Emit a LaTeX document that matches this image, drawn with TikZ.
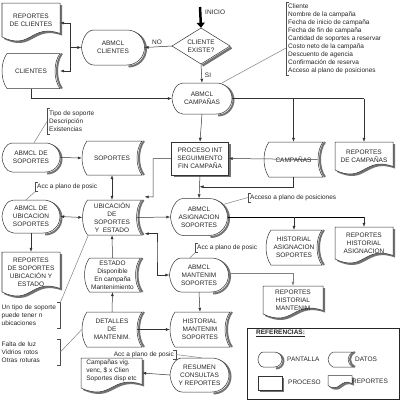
\documentclass[tikz,border=0pt]{standalone}
\usepackage{fontspec}
\setmainfont{Liberation Sans}
\usetikzlibrary{arrows.meta,calc}

\tikzset{
  shp/.style={draw=black!80, line width=0.5pt, fill=white},
  shd/.style={draw=black!55, line width=2pt},
  shdf/.style={fill=black!55},
  txt/.style={font=\fontsize{6.5}{8}\selectfont, align=center, inner sep=0pt, text=black!85},
  notetxt/.style={font=\fontsize{6.5}{8}\selectfont, align=left, inner xsep=2pt, inner ysep=1.5pt, text=black!85},
  lbl/.style={font=\fontsize{6.5}{8}\selectfont, inner sep=1pt, text=black!85},
  ln/.style={draw=black!80, line width=0.5pt},
  arr/.style={draw=black!80, line width=0.5pt, -{Latex[length=4pt,width=3pt]}},
  arrtwo/.style={draw=black!80, line width=0.5pt, {Latex[length=4pt,width=3pt]}-{Latex[length=4pt,width=3pt]}},
  thk/.style={draw=black, line width=0.9pt},
  grl/.style={draw=black!50, line width=0.5pt},
  brk/.style={draw=black!70, line width=0.5pt},
}

% pantalla (display)
\newcommand{\ShPant}[6]{%
\pgfmathsetmacro\qw{#4/2}\pgfmathsetmacro\qh{#5/2}\pgfmathsetmacro\qd{0.7*\qh}%
\begin{scope}[shift={(#2,-#3)}]
\begin{scope}[shift={(1.5,-1.5)}]
\draw[shd] ({\qw-\qh},\qh) .. controls ({\qw-0.45*\qh},\qh) and (\qw,{0.55*\qh}) .. (\qw,0) .. controls (\qw,{-0.55*\qh}) and ({\qw-0.45*\qh},-\qh) .. ({\qw-\qh},-\qh);
\end{scope}
\draw[shp] ({-\qw+\qd},\qh) -- ({\qw-\qh},\qh) .. controls ({\qw-0.45*\qh},\qh) and (\qw,{0.55*\qh}) .. (\qw,0) .. controls (\qw,{-0.55*\qh}) and ({\qw-0.45*\qh},-\qh) .. ({\qw-\qh},-\qh) -- ({-\qw+\qd},-\qh) .. controls ({-\qw+0.4*\qd},-\qh) and ({-\qw+0.05*\qd},{-0.45*\qh}) .. (-\qw,0) .. controls ({-\qw+0.05*\qd},{0.45*\qh}) and ({-\qw+0.4*\qd},\qh) .. cycle;
\node[txt,minimum width=#4,minimum height=#5] (#1) at (0,0) {#6};
\end{scope}}

% datos (stored data)
\newcommand{\ShDat}[6]{%
\pgfmathsetmacro\qw{#4/2}\pgfmathsetmacro\qh{#5/2}\def\qb{5}%
\begin{scope}[shift={(#2,-#3)}]
\draw[shd] ({\qw+2},\qh) .. controls ({\qw+2-1.33*\qb},{0.5*\qh}) and ({\qw+2-1.33*\qb},{-0.5*\qh}) .. ({\qw+2},-\qh);
\draw[shp] ({-\qw+\qb},\qh) -- (\qw,\qh) .. controls ({\qw-1.33*\qb},{0.5*\qh}) and ({\qw-1.33*\qb},{-0.5*\qh}) .. (\qw,-\qh) -- ({-\qw+\qb},-\qh) .. controls ({-\qw-0.33*\qb},{-0.5*\qh}) and ({-\qw-0.33*\qb},{0.5*\qh}) .. cycle;
\node[txt,minimum width=#4,minimum height=#5] (#1) at (0,0) {#6};
\coordinate (#1e) at ({\qw-\qb},0);
\end{scope}}

% proceso (process)
\newcommand{\ShProc}[6]{%
\pgfmathsetmacro\qw{#4/2}\pgfmathsetmacro\qh{#5/2}%
\begin{scope}[shift={(#2,-#3)}]
\fill[shdf] ({-\qw+2},{-\qh-2}) rectangle ({\qw+2},{\qh-2});
\draw[shp] (-\qw,-\qh) rectangle (\qw,\qh);
\node[txt,minimum width=#4,minimum height=#5] (#1) at (0,0) {#6};
\end{scope}}

% reporte (document)
\newcommand{\ShRep}[6]{%
\pgfmathsetmacro\qw{#4/2}\pgfmathsetmacro\qh{#5/2}\pgfmathsetmacro\qa{min(3.5,0.4*\qh)}%
\begin{scope}[shift={(#2,-#3)}]
\begin{scope}[shift={(2,-2)}]
\fill[shdf] (-\qw,\qh) -- (\qw,\qh) -- (\qw,{-\qh+\qa}) .. controls (0,{-\qh+4*\qa}) and (0,{-\qh-4*\qa}) .. (-\qw,-\qh) -- cycle;
\end{scope}
\draw[shp] (-\qw,\qh) -- (\qw,\qh) -- (\qw,{-\qh+\qa}) .. controls (0,{-\qh+4*\qa}) and (0,{-\qh-4*\qa}) .. (-\qw,-\qh) -- cycle;
\node[txt,minimum width=#4,minimum height=#5] (#1) at (0,0) {#6};
\end{scope}}

\begin{document}
\begin{tikzpicture}[x=1pt,y=1pt]
\useasboundingbox (0,0) rectangle (400,-400);

% ---------- shapes ----------
\ShRep{rcli}{31}{20}{58}{34}{REPORTES\\DE CLIENTES}
\ShDat{cli}{31}{71}{58}{35}{CLIENTES}
\ShPant{acli}{113}{47.5}{63}{35}{ABMCL\\CLIENTES}

% decision
\begin{scope}[shift={(201,-46)}]
\draw[draw=black!55, line width=2.5pt] (30.5,-1.5) -- (1.5,-19.5);
\draw[shp] (0,18) -- (29,0) -- (0,-18) -- (-29,0) -- cycle;
\node[txt,minimum width=58,minimum height=36] (dec) at (0,0) {CLIENTE\\EXISTE?};
\end{scope}

\ShPant{acamp}{202}{98.5}{60}{31}{ABMCL\\CAMPAÑAS}
\ShProc{proc}{200}{158.5}{57}{33}{PROCESO INT\\SEGUIMIENTO\\FIN CAMPAÑA}
\ShDat{camp}{293.5}{159.5}{59}{35}{CAMPAÑAS}
\ShRep{rcamp}{364}{156}{58}{28}{REPORTES\\DE CAMPAÑAS}

\ShPant{asop}{31}{157.5}{58}{29}{ABMCL DE\\SOPORTES}
\ShDat{sop}{112}{158}{60}{34}{SOPORTES}
\ShPant{aubic}{31}{216.5}{58}{33}{ABMCL DE\\UBICACION\\SOPORTES}
\ShDat{ubic}{112}{217.5}{59}{35}{UBICACIÓN\\DE\\SOPORTES\\Y\ \ ESTADO}
\ShRep{rubic}{31}{272}{58}{40}{REPORTES\\DE SOPORTES\\UBICACIÓN Y\\ESTADO}
\ShDat{est}{112.5}{275}{56}{34}{ESTADO\\Disponible\\En campaña\\Mantenimiento}

\ShPant{aasig}{199}{217}{57}{37}{ABMCL\\ASIGNACION\\SOPORTES}
\ShDat{hasig}{294}{247.5}{56}{35}{HISTORIAL\\ASIGNACION\\SOPORTES}
\ShRep{rhasig}{364}{243}{58}{32}{REPORTES\\HISTORIAL\\ASIGNACION}
\ShPant{amant}{199}{275}{59}{34}{ABMCL\\MANTENIM\\SOPORTES}
\ShRep{rhmant}{293}{300}{60}{28}{REPORTES\\HISTORIAL\\MANTENIM}

\ShDat{hmant}{200}{329.5}{60}{35}{HISTORIAL\\MANTENIM\\SOPORTES}
\ShDat{det}{112}{329.5}{60}{35}{DETALLES\\DE\\MANTENIM.}
\ShPant{res}{199.5}{375}{59}{34}{RESUMEN\\CONSULTAS\\Y REPORTES}
\ShRep{rcv}{111.5}{373}{61}{30}{}
\node[txt, align=left] (rcvt) at (111.5,-371) {Campañas vig.\\venc, \$ x Clien\\Soportes disp etc};

% ---------- labels ----------
\node[lbl, anchor=west] (lini) at (204,-12) {INICIO};
\node[lbl] (lno) at (157,-42) {NO};
\node[lbl] (lsi) at (208,-75) {SI};
\coordinate (start) at (200,-7);

% ---------- notes ----------
\node[notetxt, anchor=west] (n1) at (286,-39) {Cliente\\Nombre de la campaña\\Fecha de inicio de campaña\\Fecha de fin de campaña\\Cantidad de soportes a reservar\\Costo neto de la campaña\\Descuento de agencia\\Confirmación de reserva\\Acceso al plano de posiciones};
\node[notetxt, anchor=west, inner ysep=2.5pt] (n2) at (47,-121.5) {Tipo de soporte\\Descripción\\Existencias};
\node[notetxt, anchor=west] (n3) at (35,-187) {Acc a plano de posic};
\node[notetxt, anchor=west] (n4) at (248,-197.5) {Acceso a plano de posiciones};
\node[notetxt, anchor=west] (n5) at (195,-248) {Acc a plano de posic};
\node[notetxt, anchor=west, text width=57pt, inner xsep=1.5pt, inner ysep=2.5pt] (n6) at (0,-315.5) {Un tipo de soporte\\puede tener n\\ubicaciones};
\node[notetxt, anchor=west, text width=57pt, inner xsep=1.5pt, inner ysep=2.5pt] (n7) at (0,-352) {Falta de luz\\Vidrios rotos\\Otras roturas};
\node[notetxt, anchor=east] (n8) at (176,-354.5) {Acc a plano de posic};

\foreach \n in {n1,n2,n3,n4,n5}{
  \draw[brk] ([xshift=3pt]\n.north west) -- (\n.north west) -- (\n.south west) -- ([xshift=3pt]\n.south west);
}
\foreach \n in {n6,n7,n8}{
  \draw[brk] ([xshift=-3pt]\n.north east) -- (\n.north east) -- (\n.south east) -- ([xshift=-3pt]\n.south east);
}

% ---------- legend ----------
\draw[draw=black!85, line width=0.6pt] (247,-328) rectangle (399,-399);
\node[lbl, anchor=west, font=\fontsize{6.5}{8}\selectfont\bfseries] (reft) at (255,-333) {\underline{REFERENCIAS:}};
\ShPant{lpan}{270}{359.5}{24}{15}{}
\ShDat{ldat}{340.5}{359.5}{25}{15}{}
\ShProc{lproc}{270}{383}{24}{14}{}
\ShRep{lrep}{340}{380.5}{24}{10}{}
\node[lbl, anchor=west] (tpan) at (286,-359.5) {PANTALLA};
\node[lbl, anchor=west] (tdat) at (354,-359.5) {DATOS};
\node[lbl, anchor=west] (tproc) at (287,-382) {PROCESO};
\node[lbl, anchor=west] (trep) at (351,-381) {REPORTES};

% ---------- connectors ----------
\draw[line width=2.5pt, -{Triangle[length=5pt,width=8pt]}] (start) -- (dec.north);
\draw[arr] (dec.west) -- (acli.east);
\draw[arr] (dec.south) -- (acamp.north);
\coordinate (j1) at (70,-47.5);
\draw[arr] (j1) -- (acli.west);
\draw[arr] (j1) |- ([yshift=-3pt]rcli.east);
\draw[arr] (j1) |- (cli.east);
\draw[arr] (cli.south) |- (acamp.west);

\draw[ln] (acamp.east) -- (acamp.east -| rcamp.north);
\draw[arr] (acamp.east -| camp.north) -- (camp.north);
\draw[arr] (acamp.east -| rcamp.north) -- (rcamp.north);
\draw[arr] (acamp.south) -- (proc.north);
\draw[arr] (campe) ++(-0.5,0) -- (proc.east);
\draw[arr] (proc.south) -- (aasig.north);
\draw[arr] (camp.south) |- ($(proc.south)!0.5!(aasig.north)$);
\draw[arr] (proc.west) -| (153,-197) -- ([shift={(3,3)}]ubic.north east);

\draw[arr] (asop.east) -- (sop.west);
\draw[arrtwo] (sop.south) -- (ubic.north);
\draw[arrtwo] (aubic.east) -- (ubic.west);
\draw[arr] (aubic.south) -- (rubic.north);
\draw[arr] (est.north) -- (ubic.south);
\draw[arr] (ubice) -- (aasig.west);
\coordinate (k1) at (157,-250);
\draw[arrtwo] ([shift={(3,1.5)}]ubic.south east) -| (k1) |- (amant.west);

\draw[thk] (aasig.east) -- (aasig.east -| rhasig.north);
\draw[arr] (aasig.east -| hasig.north) -- (hasig.north);
\draw[arr] (aasig.east -| rhasig.north) -- (rhasig.north);
\draw[grl, -{Latex[length=4pt,width=3pt]}] ([yshift=2pt]amant.east) -| (rhmant.north);
\draw[arr] (amant.south) -- (hmant.north);
\draw[arr] (det.north) -- (est.south);
\draw[arr] (dete) -- (hmant.west);
\draw[arr] (res.west) -- (rcv.east);

% note connectors
\draw[grl] ([xshift=-10pt]acamp.north east) -- ([yshift=-9pt]n1.west);
\draw[grl] ([xshift=3pt]asop.north) -- (n2.west);
\draw[grl] ([xshift=-5pt]aubic.north) -- (n3.south west);
\draw[grl] ([shift={(-4,-6)}]aasig.north east) -- (n4.west);
\draw[grl] ([xshift=-9pt]amant.north) -- (n5.south west);
\draw[grl] ([xshift=6pt]ubic.south west) -- (n6.north east);
\draw[grl] (n7.east) -- (det.west);
\draw[grl] (n8.east) -- ([xshift=2pt]res.north);
\end{tikzpicture}
\end{document}
